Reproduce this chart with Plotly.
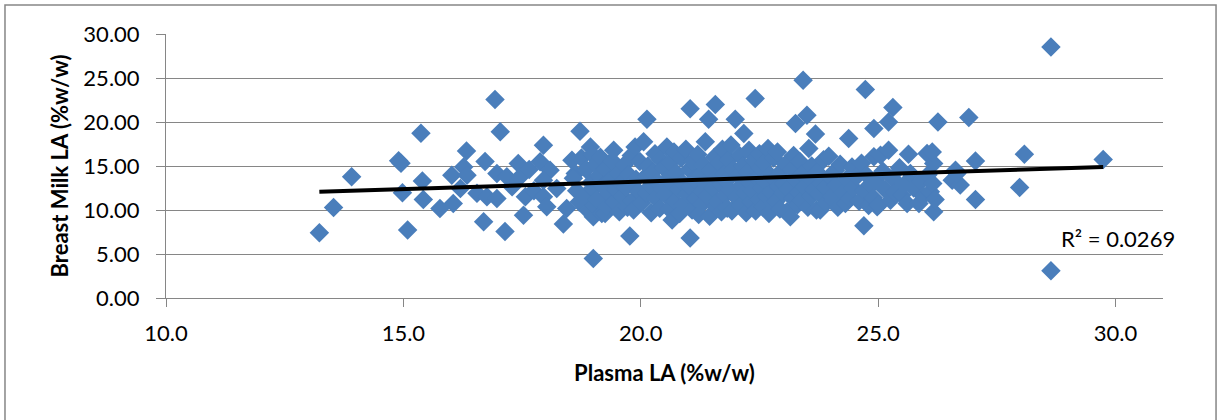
import plotly.graph_objects as go

# Plasma linoleic acid (%w/w) and breast milk linoleic acid (%w/w), paired per participant
plasma_la = [
    # 13 - 18.5
    13.23, 13.53, 13.91, 14.90, 14.95, 14.98, 15.09, 15.37, 15.40, 15.42, 15.77,
    16.02, 16.05, 16.20, 16.27, 16.33, 16.34, 16.55, 16.69, 16.72, 16.76, 16.93,
    16.97, 16.97, 17.04, 17.14, 17.18, 17.29, 17.42, 17.46, 17.57, 17.53, 17.65,
    17.75, 17.95, 17.88, 18.09, 17.95, 17.95, 18.02, 18.23, 18.44, 18.37,
    # 18.5 - 20
    18.55, 18.62, 18.72, 18.58, 18.65, 18.70, 18.75, 18.82, 18.85, 18.90, 18.94,
    18.95, 18.98, 19.00, 19.00, 19.02, 19.00,
    19.05, 19.08, 19.12, 19.15, 19.18, 19.20, 19.25, 19.25, 19.28, 19.32, 19.35,
    19.40, 19.43, 19.45, 19.48,
    19.52, 19.55, 19.58, 19.62, 19.65, 19.70, 19.72, 19.75, 19.77, 19.80, 19.82,
    19.85, 19.88, 19.90, 19.95, 19.98,
    # 20 - 21
    20.02, 20.06, 20.13, 20.10, 20.12, 20.15, 20.20, 20.22, 20.25, 20.30, 20.32,
    20.35, 20.40, 20.42, 20.45, 20.48,
    20.52, 20.55, 20.58, 20.60, 20.62, 20.66, 20.68, 20.70, 20.72, 20.75, 20.80,
    20.82, 20.85, 20.88, 20.90, 20.95, 20.98,
    # 21 - 22
    21.04, 21.04, 21.02, 21.05, 21.08, 21.10, 21.12, 21.15, 21.20, 21.22, 21.25,
    21.28, 21.30, 21.32, 21.36, 21.38, 21.40, 21.43, 21.45, 21.48,
    21.52, 21.57, 21.55, 21.58, 21.60, 21.62, 21.65, 21.68, 21.70, 21.72, 21.75,
    21.78, 21.80, 21.82, 21.85, 21.88, 21.90, 21.92, 21.95, 21.99,
    # 22 - 23
    22.02, 22.05, 22.08, 22.10, 22.12, 22.17, 22.15, 22.20, 22.22, 22.25, 22.28,
    22.30, 22.32, 22.35, 22.38, 22.41, 22.42, 22.45, 22.48,
    22.50, 22.52, 22.55, 22.58, 22.60, 22.62, 22.65, 22.68, 22.70, 22.72, 22.75,
    22.78, 22.80, 22.82, 22.85, 22.88, 22.90, 22.93, 22.96,
    # 23 - 24
    23.00, 23.02, 23.05, 23.08, 23.10, 23.15, 23.18, 23.20, 23.22, 23.26, 23.28,
    23.30, 23.32, 23.35, 23.38, 23.42, 23.40, 23.45, 23.50, 23.54, 23.52,
    23.55, 23.58, 23.60, 23.65, 23.68, 23.70, 23.72, 23.75, 23.78, 23.80, 23.85,
    23.88, 23.90, 23.96, 23.98,
    # 24 - 25
    24.02, 24.06, 24.10, 24.12, 24.15, 24.20, 24.25, 24.31, 24.33, 24.38, 24.40,
    24.45, 24.48, 24.55, 24.73, 24.70, 24.60, 24.65, 24.70, 24.75, 24.80, 24.91,
    24.91, 24.98, 24.85, 24.90, 24.95,
    # 25 - 27
    25.05, 25.01, 25.10, 25.15, 25.22, 25.22, 25.31, 25.26, 25.30, 25.35, 25.45,
    25.50, 25.55, 25.61, 25.64, 25.68, 25.75, 25.86, 25.90, 25.95,
    26.03, 26.26, 26.17, 26.10, 26.17, 26.05, 26.15, 26.20, 26.14, 26.56, 26.63,
    26.73, 26.66, 26.91, 27.05, 27.05,
    # above 27
    27.98, 28.08, 28.64, 28.64, 29.74,
]

milk_la = [
    # 13 - 18.5
    7.41, 10.29, 13.77, 15.60, 15.30, 11.95, 7.72, 18.72, 13.30, 11.20, 10.18,
    13.96, 10.75, 12.45, 14.90, 16.70, 13.96, 11.90, 8.66, 15.50, 11.50, 22.55,
    11.31, 14.15, 18.90, 7.55, 13.77, 12.63, 15.29, 13.77, 11.50, 9.40, 14.60,
    12.20, 17.37, 15.47, 14.53, 13.39, 11.50, 10.37, 12.45, 10.18, 8.40,
    # 18.5 - 20
    15.66, 14.15, 18.95, 13.60, 12.20, 10.90, 15.90, 11.60, 14.60, 9.90, 17.17,
    13.10, 16.30, 12.40, 9.23, 10.60, 4.50,
    15.20, 11.20, 13.90, 16.00, 9.60, 12.80, 14.70, 9.61, 10.40, 11.90, 13.40,
    15.60, 16.80, 10.90, 12.30,
    14.20, 9.80, 13.00, 11.50, 15.10, 12.60, 10.30, 14.00, 7.04, 16.20, 11.00,
    9.99, 17.17, 13.50, 12.10, 15.50,
    # 20 - 21
    10.80, 17.75, 20.30, 13.80, 11.90, 15.00, 12.70, 9.70, 14.30, 16.40, 11.30,
    13.20, 10.20, 15.70, 12.40, 14.80,
    11.70, 17.17, 13.60, 10.10, 15.40, 8.85, 12.90, 16.60, 11.00, 14.20, 12.30,
    9.60, 15.90, 13.10, 10.60, 16.90, 11.80,
    # 21 - 22
    21.50, 6.82, 14.60, 12.60, 10.00, 15.50, 13.50, 11.30, 16.30, 9.50, 14.00,
    12.10, 10.70, 15.10, 17.75, 13.00, 11.60, 20.30, 9.30, 14.50,
    12.50, 22.00, 16.00, 10.40, 13.70, 11.00, 15.30, 12.90, 9.80, 16.90, 14.10,
    11.70, 13.30, 10.20, 15.70, 12.30, 17.40, 9.90, 14.60, 20.30,
    # 22 - 23
    11.40, 13.90, 16.20, 10.50, 12.80, 18.69, 15.00, 11.90, 9.70, 14.30, 16.80,
    13.10, 10.90, 12.20, 15.60, 22.67, 9.90, 13.60, 11.20,
    16.40, 14.80, 12.50, 10.30, 15.30, 13.20, 11.60, 17.00, 9.60, 14.00, 12.00,
    10.80, 15.90, 13.50, 11.00, 16.60, 12.70, 10.10, 14.40,
    # 23 - 24
    11.90, 13.00, 15.20, 9.80, 12.40, 9.23, 14.60, 11.30, 16.20, 19.83, 13.40,
    10.60, 12.00, 15.50, 11.00, 24.74, 14.10, 12.60, 20.77, 16.99, 10.30,
    13.60, 11.50, 15.00, 12.30, 18.65, 10.00, 14.30, 11.90, 9.99, 13.00, 15.70,
    12.60, 10.80, 16.10, 13.80,
    # 24 - 25
    11.50, 11.12, 14.50, 12.80, 10.30, 15.20, 12.00, 10.75, 13.50, 18.13, 11.30,
    14.90, 12.50, 13.80, 23.69, 8.20, 11.00, 15.30, 12.20, 14.00, 10.50, 19.26,
    16.04, 10.37, 12.90, 11.40, 13.30,
    # 25 - 27
    16.23, 10.56, 14.40, 12.30, 16.80, 20.01, 21.64, 11.12, 13.60, 12.00, 14.80,
    11.70, 12.90, 10.75, 16.34, 14.15, 12.50, 10.75, 13.20, 11.60,
    16.42, 20.01, 15.29, 12.07, 9.80, 14.00, 13.00, 11.20, 16.60, 13.39, 14.53,
    12.83, 14.15, 20.50, 15.58, 11.20,
    # above 27
    12.56, 16.34, 28.53, 3.10, 15.74,
]

# Linear trendline coefficients (milk = slope * plasma + intercept) and its fit statistic
trend_coef = [0.171, 9.80]
r_squared_label = "R² = 0.0269"

# Trendline spans the observed plasma range
trend_x = [min(plasma_la), max(plasma_la)]
trend_y = [trend_coef[0] * v + trend_coef[1] for v in trend_x]

GRID = "#868686"
FONT = "Lato, 'Open Sans', sans-serif"

fig = go.Figure()

fig.add_trace(go.Scatter(
    x=plasma_la, y=milk_la, mode="markers",
    marker=dict(symbol="diamond", size=15, color="#4A7EBB", line=dict(width=0)),
    hoverinfo="x+y",
))

fig.add_trace(go.Scatter(
    x=trend_x, y=trend_y, mode="lines",
    line=dict(color="black", width=4),
    hoverinfo="skip",
))

fig.add_annotation(
    x=28.8, y=6.8, xref="x", yref="y", text=r_squared_label,
    showarrow=False, xanchor="left", yanchor="middle",
    font=dict(family=FONT, size=22, color="black"),
)

# Outer chart frame
fig.add_shape(
    type="rect", xref="paper", yref="paper",
    x0=-0.1615, x1=1.0532, y0=-0.6, y1=1.1098,
    line=dict(color=GRID, width=1.5), fillcolor="rgba(0,0,0,0)", layer="below",
)

fig.update_layout(
    width=1218, height=420,
    margin=dict(l=166, r=55, t=34, b=122),
    paper_bgcolor="white", plot_bgcolor="white",
    showlegend=False,
    font=dict(family=FONT, size=22, color="black"),
)

fig.update_xaxes(
    range=[10, 31], dtick=5, tick0=10, tickformat=".1f",
    showgrid=False, zeroline=False,
    showline=True, linecolor=GRID, linewidth=1,
    ticks="outside", ticklen=8, tickcolor=GRID, tickwidth=1,
    ticklabelstandoff=8,
    title=dict(text="<b>Plasma LA (%w/w)</b>", standoff=20,
               font=dict(family=FONT, size=22)),
)

fig.update_yaxes(
    range=[0, 30], dtick=5, tick0=0, tickformat=".2f",
    showgrid=True, gridcolor=GRID, gridwidth=1, zeroline=False,
    showline=True, linecolor=GRID, linewidth=1,
    ticks="outside", ticklen=9, tickcolor=GRID, tickwidth=1,
    ticklabelstandoff=12,
    title=dict(text="<b>Breast Milk LA (%w/w)</b>", standoff=8,
               font=dict(family=FONT, size=22)),
)

fig.write_html("out.html")
